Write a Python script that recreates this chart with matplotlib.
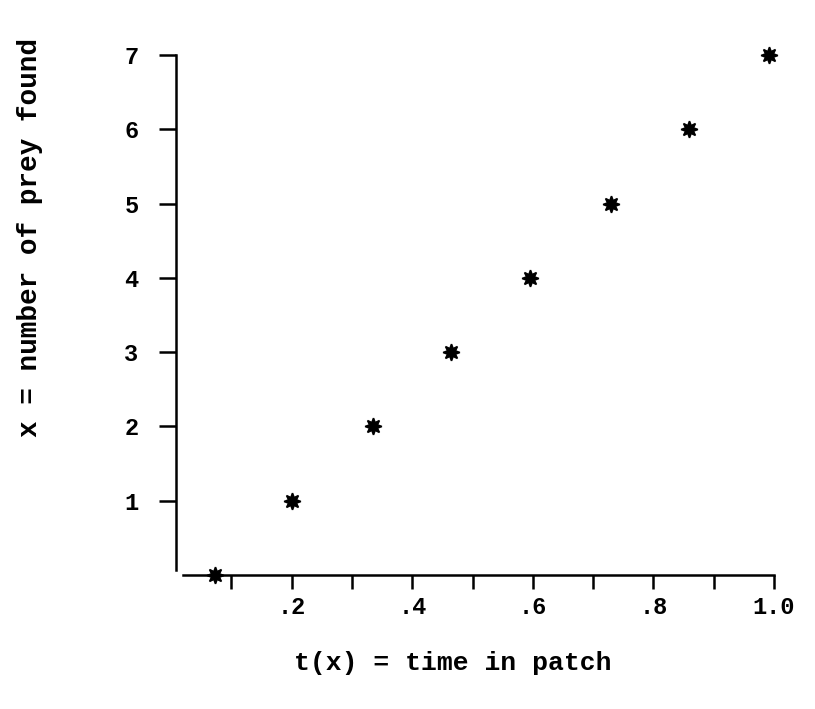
import matplotlib
matplotlib.use("Agg")
import matplotlib.pyplot as plt

# Data
t_values = [0.072, 0.200, 0.335, 0.464, 0.596, 0.729, 0.859, 0.992]
prey_found = [0, 1, 2, 3, 4, 5, 6, 7]
x_ticks = [0.1, 0.2, 0.3, 0.4, 0.5, 0.6, 0.7, 0.8, 0.9, 1.0]
x_tick_labels = ["", ".2", "", ".4", "", ".6", "", ".8", "", "1.0"]
y_ticks = [1, 2, 3, 4, 5, 6, 7]
y_tick_labels = ["1", "2", "3", "4", "5", "6", "7"]

mono = ["Liberation Mono", "DejaVu Sans Mono"]

fig = plt.figure(figsize=(8.15, 7.09), dpi=100)
ax = fig.add_axes([176/815, 1 - 575/709, (774 - 176)/815, (575 - 55)/709])

ax.plot(t_values, prey_found, linestyle="none", marker=(8, 1, 0),
        markersize=12, color="black", markeredgewidth=1.2, clip_on=False, zorder=5)

ax.set_xlim(0.008, 1.0)
ax.set_ylim(0, 7.0)

for s in ("top", "right"):
    ax.spines[s].set_visible(False)
ax.spines["left"].set_linewidth(1.8)
ax.spines["bottom"].set_linewidth(1.8)
ax.spines["left"].set_bounds(0.07, 7.0)
ax.spines["bottom"].set_bounds(0.02, 1.0)

ax.set_xticks(x_ticks)
ax.set_xticklabels(x_tick_labels, family=mono, fontweight="bold", fontsize=17)
ax.set_yticks(y_ticks)
ax.set_yticklabels(y_tick_labels, family=mono, fontweight="bold", fontsize=17)
ax.tick_params(axis="x", direction="out", length=10, width=1.8, pad=5)
ax.tick_params(axis="y", direction="out", length=12, width=1.8, pad=15)

fig.text(453/815, 1 - 663/709, "t(x) = time in patch", family=mono,
         fontsize=19, fontweight="bold", ha="center", va="center")
fig.text(30/815, 1 - 238/709, "x = number of prey found", family=mono,
         fontsize=20, fontweight="bold", ha="center", va="center", rotation=90)

fig.savefig("out.png", dpi=100, facecolor="white")
